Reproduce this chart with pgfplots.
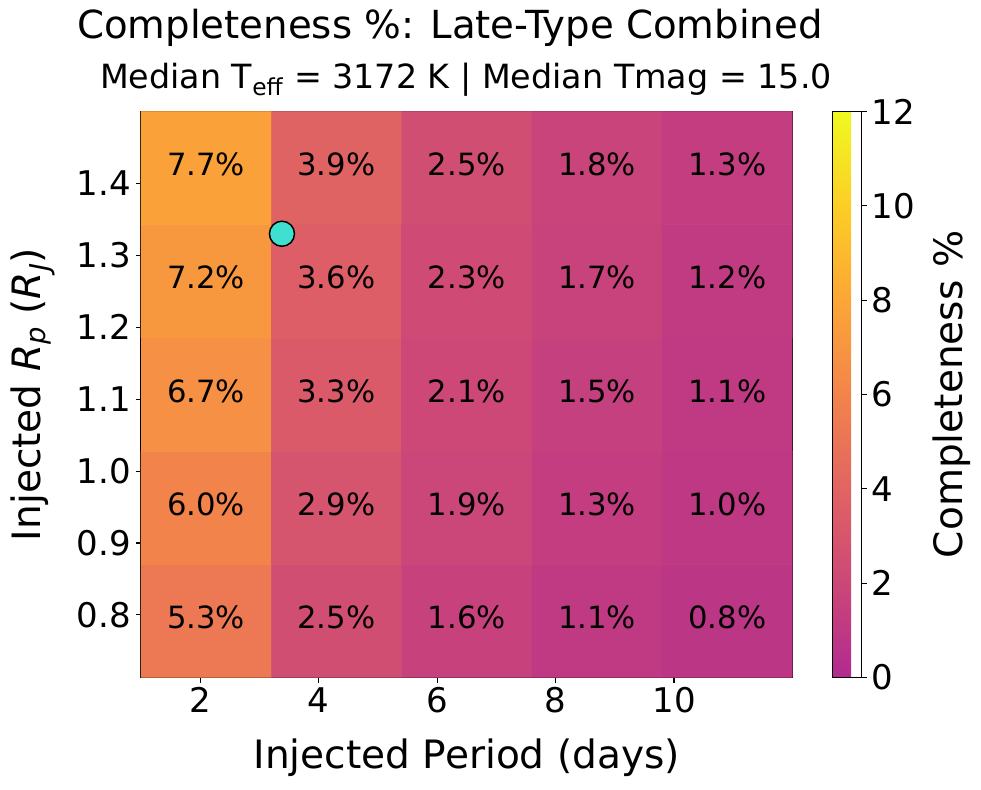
\documentclass[border=0pt]{standalone}
\usepackage{pgfplots}
\pgfplotsset{compat=1.18}
\usepackage{fontspec}
\setmainfont{DejaVu Sans}
\definecolor{turq}{RGB}{64,224,208}
\newcommand{\ticksz}{\fontsize{25.5}{30}\selectfont}
\newcommand{\labsz}{\fontsize{29.3}{34}\selectfont}

\begin{document}
\begin{tikzpicture}
\useasboundingbox (-105.75pt,-83.8pt) rectangle (630pt,508.1pt);
\begin{axis}[
	at = {(0,0)},
	anchor = south west,
	scale only axis,
	width = 488.6pt,
	height = 424.5pt,
	xmin = 1, xmax = 12,
	ymin = 0.713, ymax = 1.5,
	xtick = {2,4,6,8,10},
	ytick = {0.8,0.9,1.0,1.1,1.2,1.3,1.4},
	yticklabel style = {/pgf/number format/.cd, fixed, fixed zerofill, precision = 1},
	tick align = outside,
	major tick length = 4pt,
	xtick pos = bottom,
	ytick pos = left,
	axis line style = {line width = 0.8pt},
	tick style = {line width = 0.8pt, black},
	ticklabel style = {font = \ticksz},
	/pgf/number format/assume math mode = true,
	xlabel = {Injected Period (days)},
	ylabel = {Injected \textit{R}\textsubscript{\textit{p}} (\textit{R}\textsubscript{\textit{J}})},
	label style = {font = \labsz},
	xlabel style = {at = {(axis description cs:0.5,-0.142)}, anchor = center},
	ylabel style = {at = {(axis description cs:-0.166,0.5)}, anchor = center, rotate = 0},
	colormap = {plasmacut}{
		rgb255(0)=(177,42,144) rgb255(1)=(204,71,120) rgb255(2)=(225,100,98)
		rgb255(3)=(242,132,75) rgb255(4)=(252,166,54) rgb255(5)=(252,206,37)
		rgb255(6)=(240,249,33)
	},
	point meta min = 0,
	point meta max = 12,
	colorbar right,
	colorbar shift/.style = {xshift = 29.85pt},
	colorbar style = {
		at = {(parent axis.north east)},
		anchor = north west,
		width = 22pt,
		height = 424.5pt,
		scale only axis,
		ytick = {0,2,4,6,8,10,12},
		ytick pos = right,
		yticklabel pos = right,
		tick align = outside,
		major tick length = 4pt,
		axis line style = {line width = 0.8pt},
		tick style = {line width = 0.8pt, black},
		yticklabel style = {font = \ticksz},
		/pgf/number format/assume math mode = true,
		ylabel = {Completeness \%},
		ylabel style = {font = \labsz, at = {(axis description cs:4.07,0.5)}, anchor = center, rotate = 0},
	},
]
% completeness grid (period bins x radius bins)
\addplot[matrix plot*, mesh/cols = 5, point meta = explicit] coordinates {
	(2.1,0.7917) [5.3] (4.3,0.7917) [2.5] (6.5,0.7917) [1.6] (8.7,0.7917) [1.1] (10.9,0.7917) [0.8]

	(2.1,0.9491) [6.0] (4.3,0.9491) [2.9] (6.5,0.9491) [1.9] (8.7,0.9491) [1.3] (10.9,0.9491) [1.0]

	(2.1,1.1065) [6.7] (4.3,1.1065) [3.3] (6.5,1.1065) [2.1] (8.7,1.1065) [1.5] (10.9,1.1065) [1.1]

	(2.1,1.2639) [7.2] (4.3,1.2639) [3.6] (6.5,1.2639) [2.3] (8.7,1.2639) [1.7] (10.9,1.2639) [1.2]

	(2.1,1.4213) [7.7] (4.3,1.4213) [3.9] (6.5,1.4213) [2.5] (8.7,1.4213) [1.8] (10.9,1.4213) [1.3]
};
% cell labels
\addplot[draw = none, mark = none, point meta = explicit symbolic,
	nodes near coords, nodes near coords align = center,
	nodes near coords style = {font = \fontsize{23}{27}\selectfont, black, anchor = center, yshift = 2.6pt}] coordinates {
	(2.1,0.7917) [5.3\%] (4.3,0.7917) [2.5\%] (6.5,0.7917) [1.6\%] (8.7,0.7917) [1.1\%] (10.9,0.7917) [0.8\%]
	(2.1,0.9491) [6.0\%] (4.3,0.9491) [2.9\%] (6.5,0.9491) [1.9\%] (8.7,0.9491) [1.3\%] (10.9,0.9491) [1.0\%]
	(2.1,1.1065) [6.7\%] (4.3,1.1065) [3.3\%] (6.5,1.1065) [2.1\%] (8.7,1.1065) [1.5\%] (10.9,1.1065) [1.1\%]
	(2.1,1.2639) [7.2\%] (4.3,1.2639) [3.6\%] (6.5,1.2639) [2.3\%] (8.7,1.2639) [1.7\%] (10.9,1.2639) [1.2\%]
	(2.1,1.4213) [7.7\%] (4.3,1.4213) [3.9\%] (6.5,1.4213) [2.5\%] (8.7,1.4213) [1.8\%] (10.9,1.4213) [1.3\%]
};
% target planet
\addplot[only marks, mark = *, mark size = 9.4pt, point meta = none,
	mark options = {fill = turq, draw = black, line width = 1.1pt}] coordinates {(3.38,1.330)};
\end{axis}
\node[font = \fontsize{29}{34}\selectfont, anchor = center] at (231.75pt,487pt) {Completeness \%: Late-Type Combined};
\node[font = \fontsize{25}{30}\selectfont, anchor = center] at (243.75pt,448pt) {Median T\textsubscript{eff} = 3172 K | Median Tmag = 15.0};
\end{tikzpicture}
\end{document}
